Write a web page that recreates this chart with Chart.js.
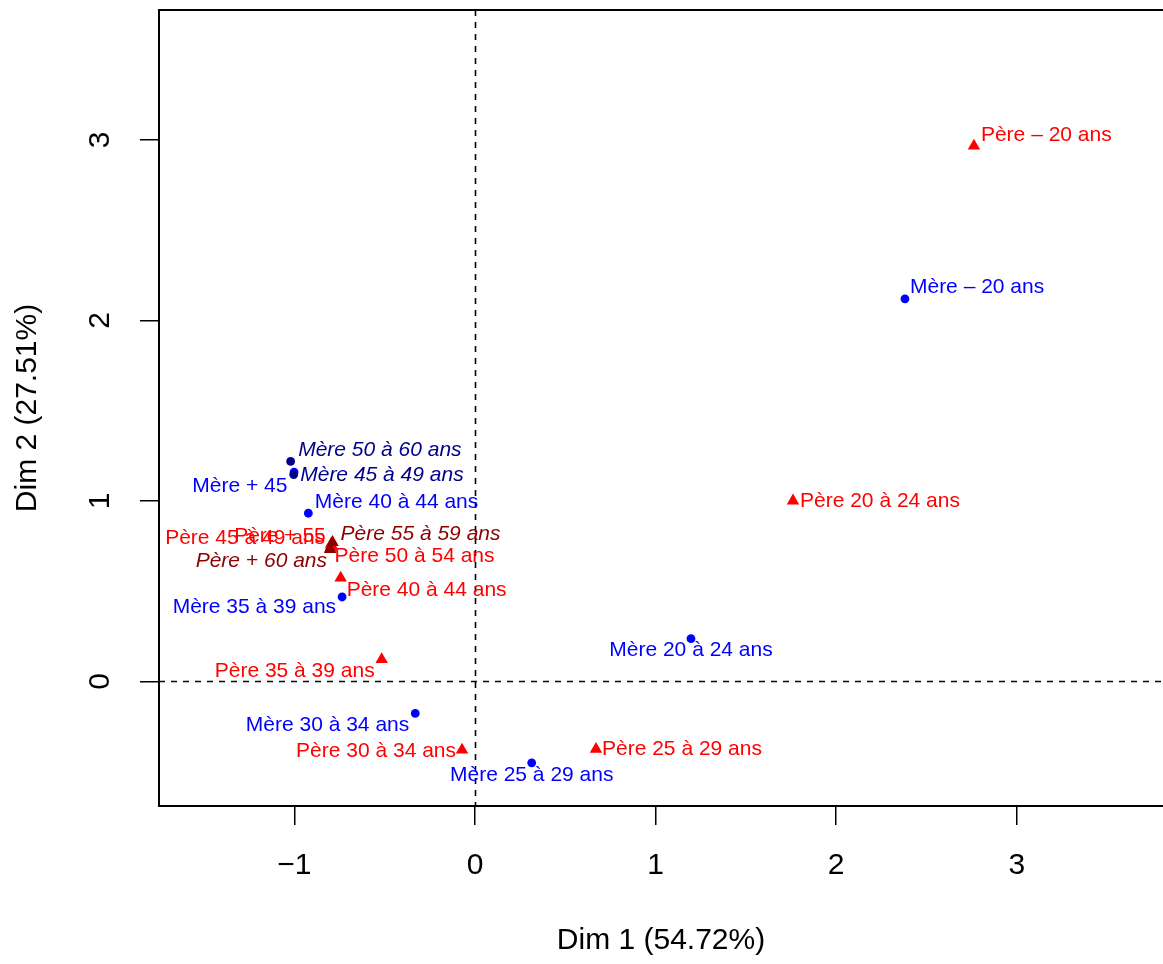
<!DOCTYPE html>
<html>
<head>
<meta charset="utf-8">
<script src="https://cdn.jsdelivr.net/npm/chart.js@4/dist/chart.umd.min.js"></script>
<style>
html,body{margin:0;padding:0;background:#ffffff;}
#wrap{width:1163px;height:964px;position:relative;}
</style>
</head>
<body>
<div id="wrap"><canvas id="c" width="1163" height="964"></canvas></div>
<script>
// ---------------- DATA ----------------
const categories = [
  "Père – 20 ans", "Mère – 20 ans", "Père 20 à 24 ans", "Mère 20 à 24 ans",
  "Père 25 à 29 ans", "Mère 25 à 29 ans", "Père 30 à 34 ans", "Mère 30 à 34 ans",
  "Père 35 à 39 ans", "Mère 35 à 39 ans", "Père 40 à 44 ans", "Mère 40 à 44 ans",
  "Mère 45 à 49 ans", "Mère 50 à 60 ans", "Mère + 45", "Père 55 à 59 ans",
  "Père 50 à 54 ans", "Père + 60 ans", "Père + 55", "Père 45 à 49 ans"
];
const dim1 = [
  2.763, 2.381, 1.761, 1.196,
  0.670, 0.314, -0.072, -0.331,
  -0.517, -0.736, -0.744, -0.923,
  -1.004, -1.021, -1.002, -0.789,
  -0.800, -0.803, -0.797, -0.797
];
const dim2 = [
  2.967, 2.120, 1.001, 0.237,
  -0.375, -0.451, -0.379, -0.177,
  0.122, 0.468, 0.574, 0.932,
  1.146, 1.219, 1.160, 0.771,
  0.738, 0.732, 0.760, 0.749
];
// group: P = père (active), M = mère (active), PS = père (supplementary), MS = mère (supplementary)
const groups = [
  "P", "M", "P", "M",
  "P", "M", "P", "M",
  "P", "M", "P", "M",
  "MS", "MS", "M", "PS",
  "P", "PS", "P", "P"
];
const xTickValues = [-1, 0, 1, 2, 3];
const yTickValues = [0, 1, 2, 3];
const xAxisTitle = "Dim 1 (54.72%)";
const yAxisTitle = "Dim 2 (27.51%)";
const xRange = [-1.75, 3.81];
const yRange = [-0.69, 3.72];

// ---------------- STYLE (label placement: pixel offset from marker, alignment) ----------------
const labelPlacement = [
  [7, -11, "left"], [5, -12, "left"], [7, 0, "left"], [0, 12, "center"],
  [6, 0, "left"], [0, 12.5, "center"], [-6, 1.5, "right"], [-6, 11.7, "right"],
  [-7, 12, "right"], [-6, 10.5, "right"], [6, 12, "left"], [6.5, -11.3, "left"],
  [6.5, 0.7, "left"], [7.5, -11.3, "left"], [-6.7, 14, "right"], [8, -8, "left"],
  [4, 7.7, "left"], [-3, 12, "right"], [-5.3, -7.7, "right"], [-6, -8, "right"]
];
const groupStyle = {
  P:  {color: "#FF0000", shape: "triangle", radius: 7.2, italic: false},
  M:  {color: "#0000FF", shape: "circle",   radius: 4.4, italic: false},
  PS: {color: "#8B0000", shape: "triangle", radius: 7.2, italic: true},
  MS: {color: "#00008B", shape: "circle",   radius: 4.4, italic: true}
};
const FONT = '"Liberation Sans", Arial, Helvetica, sans-serif';

function buildDataset(g) {
  const st = groupStyle[g];
  const pts = [];
  for (let i = 0; i < categories.length; i++) {
    if (groups[i] === g) pts.push({x: dim1[i], y: dim2[i], idx: i});
  }
  return {
    label: g,
    data: pts,
    pointStyle: st.shape,
    pointRadius: st.radius,
    pointHoverRadius: st.radius,
    pointBackgroundColor: st.color,
    pointBorderColor: st.color,
    pointBorderWidth: 0,
    showLine: false
  };
}

const fmt = v => (v < 0 ? "\u2212" + Math.abs(v) : String(v));

const refLines = {
  id: "refLines",
  beforeDatasetsDraw(chart) {
    const {ctx, chartArea: a, scales: {x, y}} = chart;
    ctx.save();
    ctx.strokeStyle = "#000";
    ctx.lineWidth = 1.6;
    ctx.setLineDash([6, 6]);
    const px = Math.round(x.getPixelForValue(0)) + 0.5;
    const py = Math.round(y.getPixelForValue(0)) + 0.5;
    ctx.beginPath();
    ctx.moveTo(px, a.top); ctx.lineTo(px, a.bottom);
    ctx.moveTo(a.left, py); ctx.lineTo(a.right, py);
    ctx.stroke();
    ctx.restore();
  },
  afterDatasetsDraw(chart) {
    const {ctx} = chart;
    ctx.save();
    ctx.textBaseline = "middle";
    chart.data.datasets.forEach((ds, di) => {
      const meta = chart.getDatasetMeta(di);
      const st = groupStyle[ds.label];
      meta.data.forEach((el, k) => {
        const i = ds.data[k].idx;
        const [dx, dy, al] = labelPlacement[i];
        ctx.font = (st.italic ? "italic " : "") + "21px " + FONT;
        ctx.fillStyle = st.color;
        ctx.textAlign = al;
        ctx.fillText(categories[i], el.x + dx, el.y + dy);
      });
    });
    ctx.restore();
  },
  afterDraw(chart) {
    const {ctx, chartArea: a} = chart;
    ctx.save();
    ctx.strokeStyle = "#000";
    ctx.lineWidth = 2;
    ctx.setLineDash([]);
    // frame; its right side lies just beyond the canvas edge, as in the original
    ctx.strokeRect(a.left, a.top, a.right + 4 - a.left, a.bottom - a.top);
    ctx.restore();
  }
};

new Chart(document.getElementById("c"), {
  type: "scatter",
  data: {
    datasets: [buildDataset("MS"), buildDataset("PS"), buildDataset("M"), buildDataset("P")]
  },
  options: {
    responsive: false,
    animation: false,
    devicePixelRatio: 1,
    layout: {autoPadding: false, padding: {top: 10, right: 0, bottom: 0, left: 0}},
    plugins: {legend: {display: false}, tooltip: {enabled: false}},
    scales: {
      x: {
        type: "linear",
        position: "bottom",
        min: xRange[0],
        max: xRange[1],
        afterBuildTicks: s => { s.ticks = xTickValues.map(v => ({value: v})); },
        afterFit: s => { s.height = 158; s.paddingLeft = 0; s.paddingRight = 0; s.paddingTop = 0; s.paddingBottom = 0; },
        grid: {drawOnChartArea: false, drawTicks: true, tickLength: 19, color: "#000", lineWidth: 1.5},
        border: {display: false},
        ticks: {color: "#000", font: {family: FONT, size: 30}, padding: 23, maxRotation: 0, minRotation: 0, callback: v => fmt(v)},
        title: {display: true, text: xAxisTitle, color: "#000", font: {family: FONT, size: 30}, padding: {top: 0, bottom: 5}}
      },
      y: {
        type: "linear",
        position: "left",
        min: yRange[0],
        max: yRange[1],
        afterBuildTicks: s => { s.ticks = yTickValues.map(v => ({value: v})); },
        afterFit: s => { s.width = 159; s.paddingLeft = 0; s.paddingRight = 0; s.paddingTop = 0; s.paddingBottom = 0; },
        grid: {drawOnChartArea: false, drawTicks: true, tickLength: 19, color: "#000", lineWidth: 1.5},
        border: {display: false},
        ticks: {color: "#000", font: {family: FONT, size: 30}, padding: 31, minRotation: 90, maxRotation: 90, crossAlign: "center", callback: v => fmt(v)},
        title: {display: true, text: yAxisTitle, color: "#000", font: {family: FONT, size: 30}, padding: {top: 10, bottom: 0}}
      }
    }
  },
  plugins: [refLines]
});
</script>
</body>
</html>
